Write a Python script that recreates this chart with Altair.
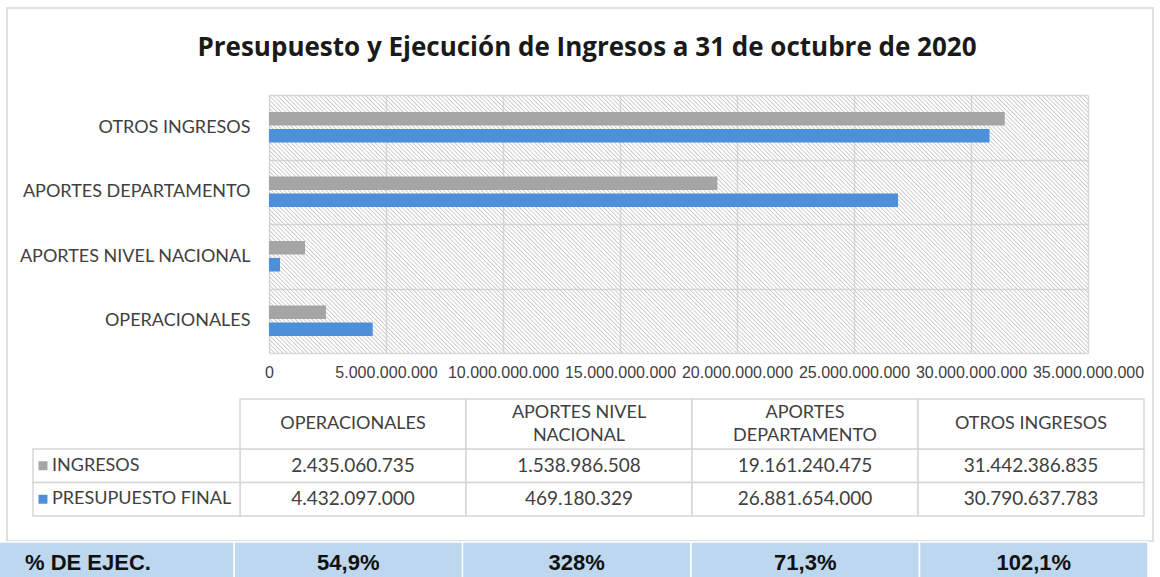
import altair as alt
import pandas as pd

# ---------------- data ----------------
categorias = ["OPERACIONALES", "APORTES NIVEL NACIONAL", "APORTES DEPARTAMENTO", "OTROS INGRESOS"]
ingresos = [2435060735, 1538986508, 19161240475, 31442386835]
presupuesto = [4432097000, 469180329, 26881654000, 30790637783]
series = ["INGRESOS", "PRESUPUESTO FINAL"]
encabezados = ["OPERACIONALES", "APORTES NIVEL\nNACIONAL", "APORTES\nDEPARTAMENTO", "OTROS INGRESOS"]
ejecucion = ["54,9%", "328%", "71,3%", "102,1%"]
ejec_label = ["% DE EJEC."]
x_ticks = [0, 5000000000, 10000000000, 15000000000, 20000000000,
           25000000000, 30000000000, 35000000000]
titulo = ["Presupuesto y Ejecución de Ingresos a 31 de octubre de 2020"]

# ---------------- style / layout ----------------
colores = ["#a5a5a5", "#4d8fd8"]
BORDER = "#d6d6d6"
GRID = "#d9d9d9"
TXT = "#404040"
W, H = 819, 258
PAD_L, PAD_T = 269, 95
PAD_R = 1160 - PAD_L - W
PAD_B = 577 - PAD_T - H
HEAD_MID, HEAD_LH = 329, 23

long = pd.DataFrame({
    "categoria": categorias * 2,
    "serie": [series[0]] * len(categorias) + [series[1]] * len(categorias),
    "valor": ingresos + presupuesto,
})
one = pd.DataFrame({"k": [0]})

# hatch pattern as a striped linear gradient (45 deg stripes)
r = H / W
s = (W + H) / (W * (1 + r * r))
period = 4.2 / (W + H)
stops = []
k = 0
while k * period + 0.6 * period <= 1:
    t0 = k * period
    stops.append({"offset": round(t0, 6), "color": "rgba(200,200,200,0)"})
    stops.append({"offset": round(t0 + 0.3 * period, 6), "color": "rgb(200,200,200)"})
    stops.append({"offset": round(t0 + 0.6 * period, 6), "color": "rgba(200,200,200,0)"})
    k += 1
gradient = {"gradient": "linear", "x1": 0, "y1": 1, "x2": s, "y2": 1 - s * r, "stops": stops}

# frame
frame = alt.Chart(one).mark_rect(fill="white", fillOpacity=0, stroke=BORDER, strokeWidth=1.5).encode(
    x=alt.value(-262), x2=alt.value(884), y=alt.value(-87), y2=alt.value(446))

hatch = alt.Chart(one).mark_rect(fill=gradient).encode(
    x=alt.value(0), x2=alt.value(W), y=alt.value(0), y2=alt.value(H))

color = alt.Color("serie:N", scale=alt.Scale(domain=series, range=colores), legend=None)

bars = alt.Chart(long).mark_bar().encode(
    y=alt.Y("categoria:N", sort=categorias[::-1],
            scale=alt.Scale(domain=categorias[::-1], paddingInner=0, paddingOuter=0),
            axis=alt.Axis(title=None, grid=True, tickBand="extent", gridColor=GRID, gridWidth=1.5,
                          domain=False, ticks=False, tickSize=0, labelFont="Lato", labelFontSize=18,
                          labelColor=TXT, labelPadding=19, labelLimit=0)),
    x=alt.X("valor:Q", scale=alt.Scale(domain=[0, 35000000000], nice=False, zero=True),
            axis=alt.Axis(title=None, values=x_ticks, format=",d", grid=True, gridColor=GRID,
                          gridWidth=1.5, domain=False, ticks=False, tickSize=0,
                          labelFont="Liberation Sans", labelFontSize=16, labelColor=TXT,
                          labelPadding=11, labelOverlap=False, labelFlush=False)),
    yOffset=alt.YOffset("serie:N", sort=series,
                        scale=alt.Scale(domain=series, paddingInner=0.2, paddingOuter=1.0)),
    color=color,
)

# ---------------- table ----------------
tx = alt.Scale(domain=categorias, range=[-29, 875], paddingInner=0, paddingOuter=0)
ty = alt.Scale(domain=series, range=[354, 421], paddingInner=0, paddingOuter=0)

cells = alt.Chart(long).mark_rect(fill="white", stroke=BORDER, strokeWidth=1.5).encode(
    x=alt.X("categoria:N", scale=tx, axis=None),
    y=alt.Y("serie:N", scale=ty, axis=None))
cell_text = alt.Chart(long).mark_text(font="Lato", fontSize=19, color=TXT).encode(
    x=alt.X("categoria:N", scale=tx, axis=None),
    y=alt.Y("serie:N", scale=ty, axis=None),
    text=alt.Text("valor:Q", format=",d"))

head_df = pd.DataFrame({"categoria": categorias, "encabezado": encabezados})
head_rect = alt.Chart(head_df).mark_rect(fill="white", stroke=BORDER, strokeWidth=1.5).encode(
    x=alt.X("categoria:N", scale=tx, axis=None), y=alt.value(304), y2=alt.value(354))
head_text = alt.Chart(head_df).transform_calculate(
    ypos=f"{HEAD_MID} - (length(split(datum.encabezado, '\\n')) - 1) * {HEAD_LH / 2}"
).mark_text(font="Lato", fontSize=18, color=TXT, lineBreak="\n",
            lineHeight=HEAD_LH, baseline="middle").encode(
    x=alt.X("categoria:N", scale=tx, axis=None),
    y=alt.Y("ypos:Q", scale=None, axis=None),
    text="encabezado:N")

ser_df = pd.DataFrame({"serie": series})
lab_rect = alt.Chart(ser_df).mark_rect(fill="white", stroke=BORDER, strokeWidth=1.5).encode(
    x=alt.value(-236), x2=alt.value(-29), y=alt.Y("serie:N", scale=ty, axis=None))
lab_sq = alt.Chart(ser_df).mark_square(size=80, opacity=1).encode(
    x=alt.value(-226), y=alt.Y("serie:N", scale=ty, axis=None), color=color)
lab_text = alt.Chart(ser_df).mark_text(font="Lato", fontSize=18, color=TXT, align="left").encode(
    x=alt.value(-217), y=alt.Y("serie:N", scale=ty, axis=None), text="serie:N")

# ---------------- % de ejecución row ----------------
bx = alt.Scale(domain=categorias, range=[-35, 879], paddingInner=0, paddingOuter=0)
ej_df = pd.DataFrame({"categoria": categorias, "ejec": ejecucion})
ej_rect = alt.Chart(ej_df).mark_rect(fill="#bdd7ee", stroke="white", strokeWidth=1.5).encode(
    x=alt.X("categoria:N", scale=bx, axis=None), y=alt.value(447), y2=alt.value(483))
ej_lab_rect = alt.Chart(pd.DataFrame({"t": ejec_label})).mark_rect(
    fill="#bdd7ee", stroke="white", strokeWidth=1.5).encode(
    x=alt.value(-270), x2=alt.value(-35), y=alt.value(447), y2=alt.value(483))
ej_text = alt.Chart(ej_df).mark_text(font="Liberation Sans", fontWeight="bold", fontSize=22,
                                     color="#111111").encode(
    x=alt.X("categoria:N", scale=bx, axis=None), y=alt.value(468), text="ejec:N")
ej_lab_text = alt.Chart(pd.DataFrame({"t": ejec_label})).mark_text(
    font="Liberation Sans", fontWeight="bold", fontSize=22, color="#111111", align="left").encode(
    x=alt.value(-244), y=alt.value(468), text="t:N")

title = alt.Chart(pd.DataFrame({"t": titulo})).mark_text(
    font="Open Sans", fontWeight="bold", fontSize=26, color="#1a1a1a").encode(
    x=alt.value(318), y=alt.value(-47), text="t:N")

chart = alt.layer(
    frame, hatch, bars, cells, cell_text, head_rect, head_text,
    lab_rect, lab_sq, lab_text, ej_rect, ej_lab_rect, ej_text, ej_lab_text, title
).resolve_scale(
    x="independent", y="independent"
).properties(
    width=W, height=H,
    padding={"left": PAD_L, "top": PAD_T, "right": PAD_R, "bottom": PAD_B},
    autosize=alt.AutoSizeParams(type="none"),
    background="white",
).configure(
    locale={"number": {"decimal": ",", "thousands": ".", "grouping": [3], "currency": ["$", ""]}}
).configure_view(stroke=None)

chart.save("out.html", embed_options={"renderer": "svg", "actions": False})
